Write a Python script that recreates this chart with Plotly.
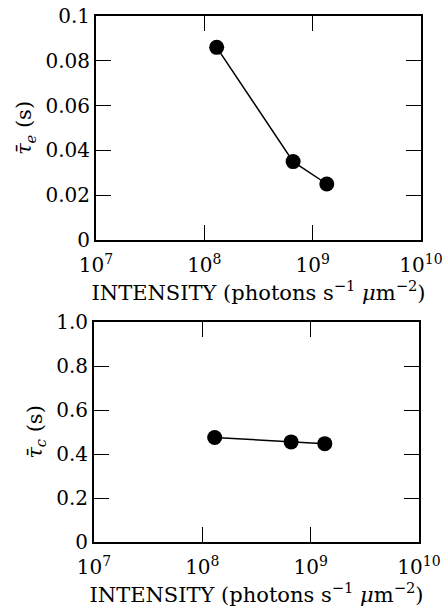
import plotly.graph_objects as go

intensity = [1.3e8, 6.6e8, 1.35e9]
tau_e = [0.086, 0.035, 0.025]
tau_c = [0.475, 0.455, 0.447]

x_tickvals = [1e7, 1e8, 1e9, 1e10]
x_ticktext = ["10<sup>7</sup>", "10<sup>8</sup>", "10<sup>9</sup>", "10<sup>10</sup>"]
ye_tickvals = [0, 0.02, 0.04, 0.06, 0.08, 0.1]
ye_ticktext = ["0", "0.02", "0.04", "0.06", "0.08", "0.1"]
yc_tickvals = [0, 0.2, 0.4, 0.6, 0.8, 1.0]
yc_ticktext = ["0", "0.2", "0.4", "0.6", "0.8", "1.0"]

FONT = "DejaVu Serif"
FS = 21
TFS = 20
xtitle = "INTENSITY (photons s<sup>−1</sup> <i>μ</i>m<sup>−2</sup>)"

L, R, T, B, W, H = 94, 19, 16, 70, 443, 612
PW = W - L - R
PH = H - T - B
top_x = [(96 - L) / PW, (421 - L) / PW]
bot_x = [0, (419 - L) / PW]
top_y = [(H - B - 240) / PH, 1]
bot_y = [0, (H - B - 322) / PH]

fig = go.Figure()
fig.add_trace(go.Scatter(x=intensity, y=tau_e, mode="lines+markers",
                         line=dict(color="black", width=1.5),
                         marker=dict(color="black", size=15),
                         xaxis="x", yaxis="y", showlegend=False))
fig.add_trace(go.Scatter(x=intensity, y=tau_c, mode="lines+markers",
                         line=dict(color="black", width=1.5),
                         marker=dict(color="black", size=15),
                         xaxis="x2", yaxis="y2", showlegend=False))
# invisible traces so the mirror-tick axes are drawn
fig.add_trace(go.Scatter(x=intensity, y=tau_e, mode="markers", marker=dict(opacity=0),
                         xaxis="x3", yaxis="y3", showlegend=False, hoverinfo="skip"))
fig.add_trace(go.Scatter(x=intensity, y=tau_c, mode="markers", marker=dict(opacity=0),
                         xaxis="x4", yaxis="y4", showlegend=False, hoverinfo="skip"))

axis_common = dict(showline=True, linecolor="black", linewidth=2, mirror="ticks",
                   ticks="inside", ticklen=15, tickwidth=1.4, tickcolor="black",
                   showgrid=False, zeroline=False, automargin=False,
                   ticklabeloverflow="allow",
                   tickfont=dict(family=FONT, size=TFS, color="black"))
mirror_common = dict(showline=False, ticks="inside", ticklen=15, tickwidth=1.4,
                     tickcolor="black", showgrid=False, zeroline=False,
                     showticklabels=False, automargin=False)

fig.update_layout(
    width=W, height=H,
    margin=dict(l=L, r=R, t=T, b=B),
    plot_bgcolor="white", paper_bgcolor="white",
    font=dict(family=FONT, size=FS, color="black"),
    xaxis=dict(type="log", range=[7, 10], tickvals=x_tickvals, ticktext=x_ticktext,
               domain=top_x, anchor="y", ticklabelstandoff=6,
               title=dict(text=xtitle, standoff=6, font=dict(family=FONT, size=FS)),
               **axis_common),
    yaxis=dict(range=[0, 0.1], tickvals=ye_tickvals, ticktext=ye_ticktext,
               domain=top_y, anchor="x",
               title=dict(text="<i>τ̄</i><sub><i>e</i></sub> (s)", standoff=8,
                          font=dict(family=FONT, size=FS)),
               **axis_common),
    xaxis2=dict(type="log", range=[7, 10], tickvals=x_tickvals, ticktext=x_ticktext,
                domain=bot_x, anchor="y2", ticklabelstandoff=6,
                title=dict(text=xtitle, standoff=6, font=dict(family=FONT, size=FS)),
                **axis_common),
    yaxis2=dict(range=[0, 1], tickvals=yc_tickvals, ticktext=yc_ticktext,
                domain=bot_y, anchor="x2",
                title=dict(text="<i>τ̄</i><sub><i>c</i></sub> (s)", standoff=8,
                           font=dict(family=FONT, size=FS)),
                **axis_common),
    xaxis3=dict(type="log", range=[7, 10], tickvals=x_tickvals, overlaying="x",
                side="top", anchor="y3", domain=top_x, **mirror_common),
    yaxis3=dict(range=[0, 0.1], tickvals=ye_tickvals, overlaying="y",
                side="right", anchor="x3", domain=top_y, **mirror_common),
    xaxis4=dict(type="log", range=[7, 10], tickvals=x_tickvals, overlaying="x2",
                side="top", anchor="y4", domain=bot_x, **mirror_common),
    yaxis4=dict(range=[0, 1], tickvals=yc_tickvals, overlaying="y2",
                side="right", anchor="x4", domain=bot_y, **mirror_common),
)

fig.write_html("out.html")
